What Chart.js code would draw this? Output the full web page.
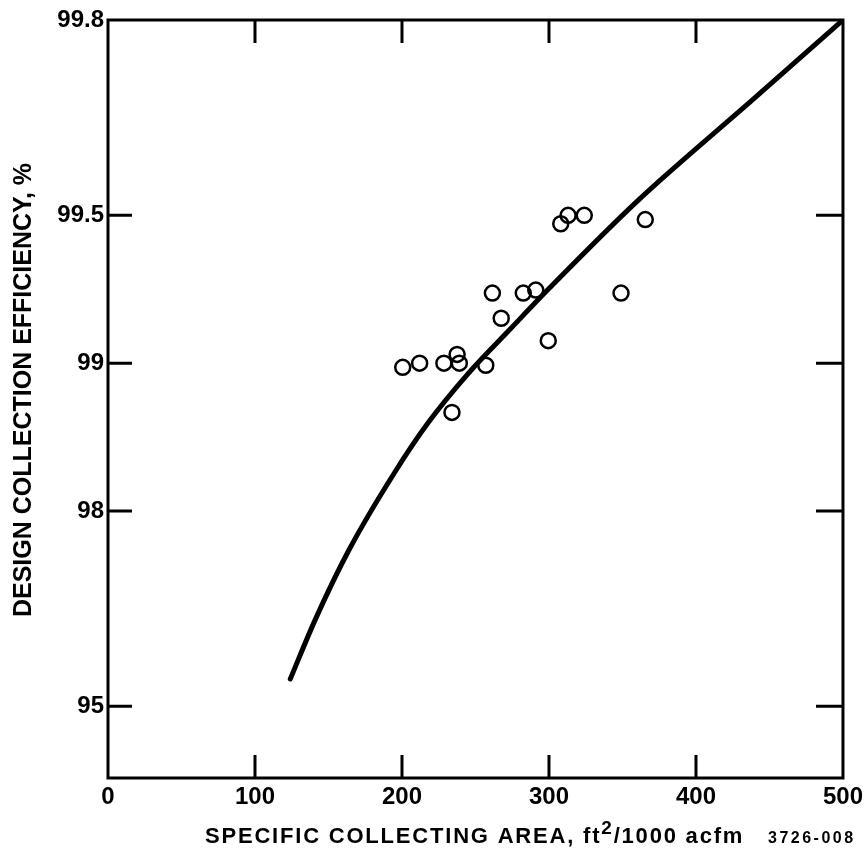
<!DOCTYPE html>
<html>
<head>
<meta charset="utf-8">
<script src="https://cdn.jsdelivr.net/npm/chart.js@4.4.1/dist/chart.umd.min.js"></script>
<style>
  body { margin: 0; background: #fff; }
  #wrap { width: 868px; height: 853px; }
</style>
</head>
<body>
<div id="wrap"><canvas id="chart"></canvas></div>
<script>
// measured points (area ft2/1000 acfm, efficiency %)
const pointArea = [200.5, 212, 228.5, 237.5, 239, 234, 257, 261.5, 267.5, 282.5, 291, 299.5, 308, 313, 324, 349, 365.5];
const pointEff  = [98.98, 99.0, 99.0, 99.04, 99.0, 98.74, 98.99, 99.28, 99.19, 99.28, 99.29, 99.10, 99.48, 99.50, 99.50, 99.28, 99.49];

// design curve
const curveArea = [124, 141, 164, 195, 218, 245, 274, 301, 361, 439, 500];
const curveEff  = [95.6, 96.67, 97.6, 98.33, 98.68, 98.95, 99.15, 99.3, 99.535, 99.71, 99.8];

const xTicks = [0, 100, 200, 300, 400, 500];
const yTicks = [99.8, 99.5, 99, 98, 95];
const yTickLabels = ['99.8', '99.5', '99', '98', '95'];

// y axis is log of penetration (100 - efficiency)
const pen = e => 100 - e;

const font = 'Liberation Sans, Arial, Helvetica, sans-serif';

const frameAndTicks = {
    id: 'frameAndTicks',
    afterDraw(chart) {
        const { ctx, chartArea: a, scales: { x, y } } = chart;
        ctx.save();
        ctx.strokeStyle = '#000';
        ctx.lineWidth = 3;
        ctx.strokeRect(a.left, a.top, a.right - a.left, a.bottom - a.top);

        // inward tick marks on all four sides
        ctx.beginPath();
        xTicks.slice(1, -1).forEach(v => {
            const px = x.getPixelForValue(v);
            ctx.moveTo(px, a.bottom); ctx.lineTo(px, a.bottom - 23);
            ctx.moveTo(px, a.top); ctx.lineTo(px, a.top + 23);
        });
        yTicks.slice(1).forEach(v => {
            const py = y.getPixelForValue(pen(v));
            ctx.moveTo(a.left, py); ctx.lineTo(a.left + 24, py);
            ctx.moveTo(a.right, py); ctx.lineTo(a.right - 27, py);
        });
        ctx.stroke();

        ctx.fillStyle = '#000';
        ctx.textBaseline = 'alphabetic';

        // y axis title
        ctx.save();
        ctx.translate(31, 390);
        ctx.rotate(-Math.PI / 2);
        ctx.textAlign = 'center';
        ctx.font = 'bold 25px ' + font;
        ctx.fillText('DESIGN COLLECTION EFFICIENCY, %', 0, 0);
        ctx.restore();

        // x axis title with superscript
        ctx.textAlign = 'left';
        ctx.letterSpacing = '1.8px';
        let tx = 205;
        const ty = 843;
        const parts = [['SPECIFIC COLLECTING AREA, ft', 0, 22], ['2', -9, 19], ['/1000 acfm', 0, 22]];
        parts.forEach(([t, dy, size]) => {
            ctx.font = 'bold ' + size + 'px ' + font;
            ctx.fillText(t, tx, ty + dy);
            tx += ctx.measureText(t).width;
        });
        ctx.letterSpacing = '2.5px';
        ctx.font = 'bold 16px ' + font;
        ctx.fillText('3726-008', 768, 843);
        ctx.restore();
    }
};

new Chart(document.getElementById('chart'), {
    type: 'scatter',
    data: {
        datasets: [{
            label: 'Design curve',
            type: 'line',
            data: curveArea.map((v, i) => ({ x: v, y: pen(curveEff[i]) })),
            borderColor: '#000',
            borderWidth: 5,
            pointRadius: 0,
            cubicInterpolationMode: 'monotone',
            borderCapStyle: 'round',
            fill: false
        }, {
            label: 'Installations',
            data: pointArea.map((v, i) => ({ x: v, y: pen(pointEff[i]) })),
            pointRadius: 7.5,
            pointBorderWidth: 2.5,
            pointBorderColor: '#000',
            pointBackgroundColor: 'rgba(255,255,255,0)'
        }]
    },
    options: {
        responsive: true,
        maintainAspectRatio: false,
        animation: false,
        layout: { padding: { top: 20, right: 21, left: 0, bottom: 0 } },
        plugins: { legend: { display: false }, tooltip: { enabled: false } },
        scales: {
            x: {
                type: 'linear',
                min: 0, max: 500,
                afterFit: s => { s.height = 75; },
                afterBuildTicks: s => { s.ticks = xTicks.map(v => ({ value: v })); },
                grid: { display: false, drawTicks: false },
                border: { display: false },
                ticks: { color: '#000', padding: 5, maxRotation: 0, font: { family: font, size: 24, weight: 'bold' } }
            },
            y: {
                type: 'logarithmic',
                reverse: true,
                min: 0.2, max: 7,
                afterFit: s => { s.width = 108; },
                afterBuildTicks: s => { s.ticks = yTicks.map(v => ({ value: pen(v) })); },
                grid: { display: false, drawTicks: false },
                border: { display: false },
                ticks: {
                    color: '#000', padding: 4,
                    font: { family: font, size: 24, weight: 'bold' },
                    callback: (v, i) => yTickLabels[i]
                }
            }
        }
    },
    plugins: [frameAndTicks]
});
</script>
</body>
</html>
